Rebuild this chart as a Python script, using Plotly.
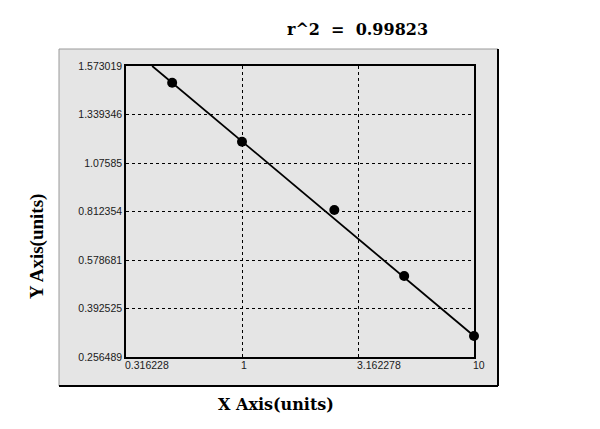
import numpy as np
import plotly.graph_objects as go

# ---- data ----
x_vals = [0.5, 1.0, 2.5, 5.0, 10.0]
y_vals = [1.4926, 1.1915, 0.8205, 0.5173, 0.3154]
fit_x = [0.410, 10.0]
fit_y = [1.573019, 0.3154]
y_tick_labels = [0.256489, 0.392525, 0.578681, 0.812354, 1.07585, 1.339346, 1.573019]
x_tick_labels = [0.316228, 1, 3.162278, 10]
r2_text = "r^2  =  0.99823"

# the reference's y axis puts its labelled values at equal spacing
y_idx = list(range(len(y_tick_labels)))
def y_scale(v):
    return np.interp(v, y_tick_labels, y_idx)

fig = go.Figure()
fig.add_trace(go.Scatter(x=fit_x, y=y_scale(fit_y), mode="lines",
                         line=dict(color="black", width=1.8), hoverinfo="skip",
                         showlegend=False, cliponaxis=True))
fig.add_trace(go.Scatter(x=x_vals, y=y_scale(y_vals), mode="markers",
                         marker=dict(color="black", size=10), showlegend=False,
                         cliponaxis=False))

panel = "#e5e5e5"
OFF = 8  # page body margin
PL, PR, PT, PB = 126, 474, 66, 357  # plot area in page pixels
W, H = 600 - OFF, 429 - OFF
L, T = PL - OFF, PT - OFF
R, B = W - (PR - OFF), H - (PB - OFF)
pw, ph = PR - PL, PB - PT
def px(xp):
    return (xp - PL) / pw
def py(yp):
    return (PB - yp) / ph

fig.add_shape(type="rect", xref="paper", yref="paper", x0=px(59), x1=px(498),
              y0=py(386), y1=py(49), fillcolor=panel,
              line=dict(color="#9a9a9a", width=1), layer="below")
fig.add_shape(type="line", xref="paper", yref="paper", x0=px(59), x1=px(498),
              y0=py(386), y1=py(386), line=dict(color="black", width=2))
fig.add_shape(type="line", xref="paper", yref="paper", x0=px(498), x1=px(498),
              y0=py(386), y1=py(49), line=dict(color="black", width=2))

tick_font = dict(family="Liberation Sans, Arial", size=10.5, color="#1a1a1a")
for v in x_tick_labels:
    fig.add_annotation(x=np.log10(v), y=0, xref="x", yref="paper",
                       text=f"{v:g}" if v in (1, 10) else f"{v}",
                       showarrow=False, xanchor="left", yanchor="top",
                       xshift=-3, yshift=0, font=tick_font)

fig.add_annotation(x=px(357), y=py(29), xref="paper", yref="paper", text=r2_text,
                   showarrow=False, xanchor="center", yanchor="middle",
                   font=dict(family="DejaVu Serif", size=16, color="black", weight="bold"))
fig.add_annotation(x=px(276), y=py(404), xref="paper", yref="paper", text="X Axis(units)",
                   showarrow=False, xanchor="center", yanchor="middle",
                   font=dict(family="DejaVu Serif", size=16, color="black", weight="bold"))
fig.add_annotation(x=px(37), y=py(247), xref="paper", yref="paper", text="Y Axis(units)",
                   showarrow=False, xanchor="center", yanchor="middle", textangle=-90,
                   font=dict(family="Liberation Serif", size=19, color="black", weight="bold"))

fig.update_layout(
    width=W, height=H,
    margin=dict(l=L, r=R, t=T, b=B),
    paper_bgcolor="white", plot_bgcolor=panel,
    xaxis=dict(type="log", range=[np.log10(0.316228), 1],
               tickvals=x_tick_labels, showticklabels=False,
               showgrid=True, gridcolor="black", gridwidth=1, griddash="dot",
               showline=True, linecolor="black", linewidth=1.5, mirror=True,
               zeroline=False, ticks=""),
    yaxis=dict(range=[0, 6], tickvals=y_idx,
               ticktext=[f"{v}" for v in y_tick_labels],
               tickfont=tick_font,
               showgrid=True, gridcolor="black", gridwidth=1, griddash="dot",
               showline=True, linecolor="black", linewidth=1.5, mirror=True,
               zeroline=False, ticks=""),
)
fig.write_html("out.html")
